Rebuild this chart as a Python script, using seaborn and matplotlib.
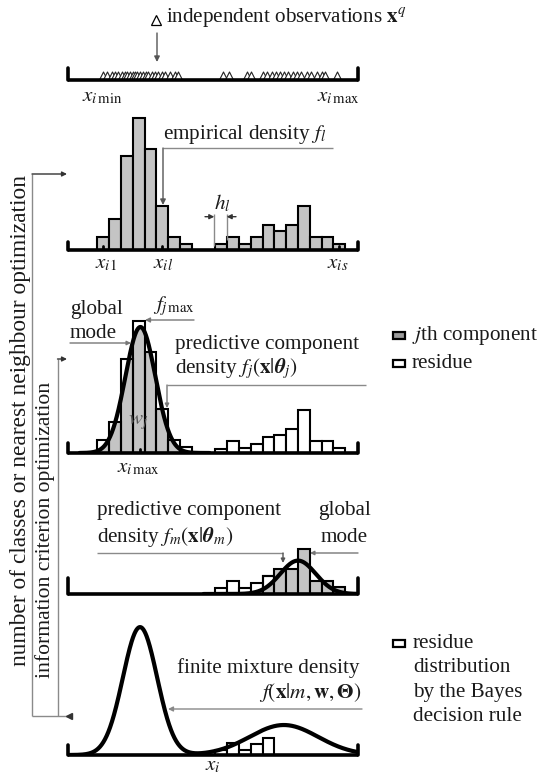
import numpy as np
import pandas as pd
import matplotlib
matplotlib.use("Agg")
import matplotlib.pyplot as plt
from matplotlib.patches import Rectangle
import seaborn as sns

sns.set_theme(style="white")
plt.rcParams['font.family'] = ['Liberation Serif', 'DejaVu Serif']
plt.rcParams['mathtext.fontset'] = 'stix'

# ---------------- data (x in bin units) ----------------
obs_left = [0.48, 0.82, 1.25, 1.5, 1.75, 2.09, 2.35, 2.52, 2.77, 3.03, 3.19, 3.36,
            3.62, 3.87, 4.13, 4.3, 4.64, 4.89, 5.14, 5.48, 5.74, 6.16, 6.58, 6.84]
obs_right = [10.65, 11.16, 12.69, 13.03, 14.04, 14.38, 14.81, 15.14, 15.48, 15.82,
             16.16, 16.58, 16.92, 17.26, 17.77, 18.1, 18.6, 19.03, 19.29, 20.31]

bins_left = [0, 1, 2, 3, 4, 5, 6, 7]
bins_right = [10, 11, 12, 13, 14, 15, 16, 17, 18, 19, 20]
counts_left = [2, 5, 15, 21, 16, 7, 2, 1]
counts_right = [1, 2, 1, 2, 4, 3, 4, 7, 2, 2, 1]
residue_p3 = [0.63, 1.86, 0.79, 1.48, 2.49, 2.9, 3.81, 6.88, 1.86, 1.86, 0.79]
counts_p4 = [1.0, 2.0, 1.0, 1.7, 2.9, 4.0, 4.0, 7.2, 2.1, 2.0, 1.1]
bins_res5 = [10, 11, 12, 13, 14]
residue_p5 = [0.8, 1.85, 0.8, 1.75, 2.65]

# gaussian component parameters: (mean, sd, peak height)
comp_j = (3.65, 1.27, 20.0)
comp_m = (17.0, 1.5, 5.3)
mix = [(3.62, 1.45, 20.3), (15.8, 2.9, 4.76)]

# ---------------- layout helpers ----------------
W, Hf = 542, 778
fig = plt.figure(figsize=(W / 100, Hf / 100), dpi=100)
fig.patch.set_facecolor('white')
XL = (-2.48, 22.08)
PX_X0, PX_X1 = 68, 358
UNIT = 6.3  # px per count
GREY = '#c4c4c4'
TXT = '#1a1a1a'
LINE = '#8a8a8a'


def panel(base_px, height_px):
    ax = fig.add_axes([PX_X0 / W, 1 - base_px / Hf, (PX_X1 - PX_X0) / W, height_px / Hf])
    ax.set_xlim(*XL)
    ax.set_ylim(0, height_px / UNIT)
    ax.axis('off')
    ax.patch.set_alpha(0)
    return ax


def baseline(ax, tick_px=10):
    ax.plot(XL, [0, 0], color='black', lw=2.6, clip_on=False, zorder=10, solid_capstyle='butt')
    for xe in XL:
        ax.plot([xe, xe], [0, tick_px / UNIT], color='black', lw=2.6, clip_on=False, zorder=10)


def gauss(x, p):
    mu, sd, h = p
    return h * np.exp(-0.5 * ((x - mu) / sd) ** 2)


def hist(ax, bins, counts, fill=True, color=GREY, z=3):
    centers = [b + 0.5 for b in bins]
    edges = [float(e) for e in range(bins[0], bins[-1] + 2)]
    df = pd.DataFrame({'x': centers, 'w': [float(c) for c in counts]})
    sns.histplot(data=df, x='x', weights='w', bins=edges, ax=ax, fill=fill,
                 color=color if fill else 'black', edgecolor='black', linewidth=1.5,
                 alpha=1, zorder=z, legend=False)
    ax.set_xlim(*XL)
    ax.axis('off')


def step_heights(x, bins, counts):
    out = np.zeros_like(x)
    for b, c in zip(bins, counts):
        out[(x >= b) & (x < b + 1)] = c
    return out


def small_tick(ax, xs):
    for xv in xs:
        ax.plot([xv, xv], [0, 4 / UNIT], color='black', lw=2, zorder=11)

# ---------------- panel 1: observations ----------------
ax1 = panel(80, 30)
obs = pd.DataFrame({'x': obs_left + obs_right, 'y': 4.0 / UNIT})
sns.scatterplot(data=obs, x='x', y='y', ax=ax1, marker='^', s=42, color='white',
                edgecolor='#222222', linewidth=0.8, zorder=5, legend=False)
ax1.set_xlim(*XL); ax1.set_ylim(0, 30 / UNIT); ax1.axis('off')
baseline(ax1, 12)

# ---------------- panel 2: empirical density ----------------
ax2 = panel(250, 140)
hist(ax2, bins_left, counts_left)
hist(ax2, bins_right, counts_right)
ax2.set_ylim(0, 140 / UNIT)
baseline(ax2, 8)
small_tick(ax2, [0.5, 5.5, 20.5])

# ---------------- panel 3: j-th component ----------------
ax3 = panel(453, 140)
xs = np.linspace(-1.5, 9.5, 800)
cj = gauss(xs, comp_j)
ax3.fill_between(xs, 0, np.minimum(cj, step_heights(xs, bins_left, counts_left)),
                 color=GREY, lw=0, zorder=2)
hist(ax3, bins_left, counts_left, fill=False)
hist(ax3, bins_right, residue_p3, fill=True, color='white')
sns.lineplot(x=xs, y=cj, ax=ax3, color='black', lw=3, zorder=6)
ax3.set_xlim(*XL); ax3.set_ylim(0, 140 / UNIT); ax3.axis('off')
baseline(ax3, 10)
small_tick(ax3, [3.6])

# ---------------- panel 4: m-th component ----------------
ax4 = panel(594, 60)
xs4 = np.linspace(9, 22.08, 800)
cm = gauss(xs4, comp_m)
grey_bins = [b for b in bins_right if b >= 15]
grey_counts = [c for b, c in zip(bins_right, counts_p4) if b >= 15]
white_bins = [b for b in bins_right if b < 15]
white_counts = [c for b, c in zip(bins_right, counts_p4) if b < 15]
hist(ax4, white_bins, white_counts, fill=True, color='white', z=2)
m14 = (xs4 >= 14) & (xs4 <= 15)
ax4.fill_between(xs4[m14], 0, np.minimum(cm[m14], step_heights(xs4[m14], bins_right, counts_p4)),
                 color=GREY, lw=0, zorder=3)
hist(ax4, grey_bins, grey_counts, fill=True, color=GREY, z=3)
hist(ax4, [14], [counts_p4[4]], fill=False, z=4)
sns.lineplot(x=xs4, y=cm, ax=ax4, color='black', lw=3, zorder=6)
ax4.set_xlim(*XL); ax4.set_ylim(0, 60 / UNIT); ax4.axis('off')
baseline(ax4, 16)

# ---------------- panel 5: finite mixture ----------------
ax5 = panel(755, 140)
xs5 = np.linspace(XL[0], XL[1], 1200)
fm = sum(gauss(xs5, p) for p in mix)
hist(ax5, bins_res5, residue_p5, fill=True, color='white', z=2)
sns.lineplot(x=xs5, y=fm, ax=ax5, color='black', lw=3, zorder=6)
ax5.set_xlim(*XL); ax5.set_ylim(0, 140 / UNIT); ax5.axis('off')
baseline(ax5, 10)

# ---------------- overlay for annotations (pixel coords) ----------------
ov = fig.add_axes([0, 0, 1, 1], zorder=20)
ov.set_xlim(0, W); ov.set_ylim(Hf, 0); ov.axis('off'); ov.patch.set_alpha(0)
FS = 15.2


def t(x, y, s, ha='left', color=TXT, fs=FS, **kw):
    ov.text(x, y, s, ha=ha, va='center', color=color, fontsize=fs, **kw)


def arrow(p0, p1, color='#555555', lw=1.0, ms=8):
    ov.annotate('', xy=p1, xytext=p0,
                arrowprops=dict(arrowstyle='-|>', color=color, lw=lw, mutation_scale=ms,
                                shrinkA=0, shrinkB=0))


def line(xs_, ys_, color=LINE, lw=1.0):
    ov.plot(xs_, ys_, color=color, lw=lw, solid_capstyle='butt')

# top
ov.plot([156], [20], marker='^', ms=6.5, mfc='white', mec='black', mew=0.9)
t(166, 18, r'independent observations $\mathbf{x}^q$')
arrow((157, 33), (157, 62), color='#555555')
t(102, 97, r'$x_{i\,\mathrm{min}}$', ha='center')
t(338, 97, r'$x_{i\,\mathrm{max}}$', ha='center')

# panel 2 texts
t(163, 134, r'empirical density $f_l$')
line([163, 333], [148, 148])
arrow((163, 148), (163, 205), color='#555555')
t(222, 203, r'$h_l$', ha='center')
line([214.3, 214.3], [214, 246])
line([226.7, 226.7], [214, 240])
arrow((205, 216.7), (214.3, 216.7), color='#333333', ms=7)
arrow((236, 216.7), (226.7, 216.7), color='#333333', ms=7)
t(106, 264, r'$x_{i1}$', ha='center')
t(163, 264, r'$x_{il}$', ha='center')
t(338, 264, r'$x_{is}$', ha='center')

# panel 3 texts
t(70, 309, 'global')
t(70, 333, 'mode')
arrow((70, 343), (131, 343), color='#777777', ms=6)
t(153, 306, r'$f_{j\,\mathrm{max}}$')
arrow((194, 320), (145, 320), color='#777777', ms=7)
t(175, 344, 'predictive component')
t(175, 369, r'density $f_j\left(\mathbf{x}|\boldsymbol{\theta}_j\right)$')
line([167, 366], [385, 385])
arrow((167, 385), (167, 408), color='#777777', ms=6)
t(138, 422, r'$w_j$', ha='center', color='#555555')
t(138, 468, r'$x_{i\,\mathrm{max}}$', ha='center')

# legend 1
ov.add_patch(Rectangle((393, 332), 12, 7, facecolor='#9a9a9a', edgecolor='black', lw=1.6))
t(412, 335, r'$j$th component')
ov.add_patch(Rectangle((393, 360), 12, 7, facecolor='white', edgecolor='black', lw=1.6))
t(412, 363, 'residue')

# panel 4 texts
t(97, 510, 'predictive component')
t(97, 537, r'density $f_m\left(\mathbf{x}|\boldsymbol{\theta}_m\right)$')
line([97, 283], [553, 553])
arrow((283, 553), (283, 563), color='#555555', ms=6)
t(318, 510, 'global')
t(321, 537, 'mode')
arrow((358, 553), (310, 553), color='#777777', ms=6)

# panel 5 texts
t(177, 668, 'finite mixture density')
t(362, 692, r'$f\left(\mathbf{x}|m,\mathbf{w},\boldsymbol{\Theta}\right)$', ha='right')
arrow((362, 709), (168, 709), color='#888888', ms=7)
t(213, 766, r'$x_i$', ha='center')

# legend 2
ov.add_patch(Rectangle((393, 640), 12, 7, facecolor='white', edgecolor='black', lw=1.6))
for i, s in enumerate(['residue', 'distribution', 'by the Bayes', 'decision rule']):
    t(413, 643 + 24.5 * i, s)

# left feedback loops
t(21, 421, 'number of classes or nearest neighbour optimization', ha='center',
  rotation=90, fs=16.8)
t(45, 530, 'information criterion optimization', ha='center', rotation=90, fs=15.6)
line([32, 32], [174, 716])
line([57.5, 57.5], [359, 716])
line([32, 70], [716, 716])
arrow((32, 174), (67, 174), color='#333333', ms=7)
arrow((57.5, 359), (67, 359), color='#333333', ms=7)
ov.plot([69], [716], marker='<', ms=4, color='#333333')

fig.savefig('out.png', dpi=100, facecolor='white')
